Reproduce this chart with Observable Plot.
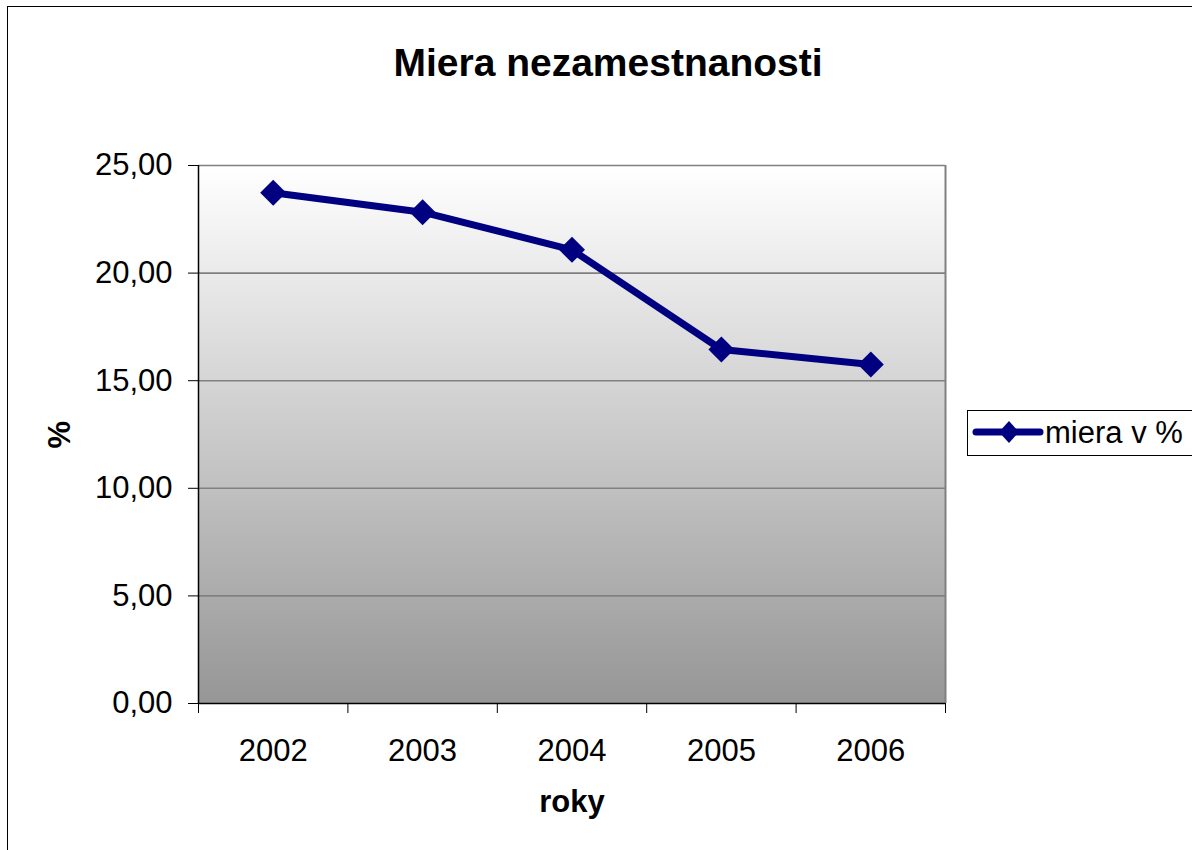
<!DOCTYPE html>
<html><head><meta charset="utf-8">
<script src="https://cdn.jsdelivr.net/npm/d3@7"></script>
<script src="https://cdn.jsdelivr.net/npm/@observablehq/plot@0.6"></script>
<style>
html,body{margin:0;padding:0;background:#fff;overflow:hidden;width:1192px;height:850px;}
#wrap{position:relative;width:1192px;height:850px;font-family:"Liberation Sans",Arial,sans-serif;overflow:hidden;}
#border{position:absolute;left:7px;top:6px;width:1400px;height:1000px;border:1.5px solid #000;box-sizing:border-box;pointer-events:none;}
#chart{position:absolute;left:0;top:0;}
#legend{position:absolute;left:967px;top:410px;width:300px;height:46px;border:1.5px solid #000;box-sizing:border-box;background:#fff;}
#legend svg{position:absolute;left:0;top:0;}
#legend span{position:absolute;left:77px;top:4px;font-size:31px;line-height:36px;color:#000;white-space:nowrap;}
</style>
</head><body>
<div id="wrap"><div id="border"></div><div id="chart"></div>
<div id="legend"><svg width="80" height="44"><line x1="8" y1="21" x2="72" y2="21" stroke="#000080" stroke-width="7" stroke-linecap="round"/><path d="M41,10L51,21L41,32L31,21Z" fill="#000080"/></svg><span>miera v %</span></div>
</div>
<script>
const years = [2002, 2003, 2004, 2005, 2006];
const rates = [23.73, 22.83, 21.08, 16.45, 15.75];
const yTicks = [0, 5, 10, 15, 20, 25];
const gridValues = [5, 10, 15, 20, 25];
const title = "Miera nezamestnanosti";
const xTitle = "roky";
const yTitle = "%";
const seriesName = "miera v %";

const data = years.map((y, i) => ({year: y, rate: rates[i]}));
const boundaries = [years[0] - 0.5, ...years.map(y => y + 0.5)];
const font = "'Liberation Sans', Arial, sans-serif";

const chart = Plot.plot({
  width: 1192,
  height: 850,
  marginLeft: 198,
  marginRight: 247,
  marginTop: 165,
  marginBottom: 147,
  style: {fontFamily: font, background: "transparent", color: "#000"},
  x: {type: "linear", domain: [boundaries[0], boundaries[boundaries.length - 1]]},
  y: {domain: [0, 25]},
  marks: [
    Plot.frame({fill: "url(#bg)", stroke: null}),
    Plot.ruleY(gridValues, {stroke: "#808080", strokeWidth: 1.6}),
    Plot.ruleX([boundaries[boundaries.length - 1]], {stroke: "#808080", strokeWidth: 2}),
    Plot.ruleX([boundaries[0]], {stroke: "#000", strokeWidth: 1.5}),
    Plot.ruleY([0], {stroke: "#000", strokeWidth: 1.5}),
    Plot.axisY({ticks: yTicks, tickSize: 10, tickPadding: 16, fontSize: 31, label: null,
      tickFormat: d => d.toFixed(2).replace(".", ","), stroke: "#000"}),
    Plot.axisX({ticks: boundaries, tickSize: 10, tickFormat: () => "", label: null, stroke: "#000"}),
    Plot.axisX({ticks: years, tickSize: 0, tickPadding: 35, fontSize: 31, label: null,
      tickFormat: d => String(d)}),
    Plot.line(data, {x: "year", y: "rate", stroke: "#000080", strokeWidth: 7, strokeLinejoin: "round"}),
    Plot.dot(data, {x: "year", y: "rate", symbol: "diamond2", r: 11.7, fill: "#000080", stroke: null}),
    Plot.text([title], {frameAnchor: "top", dx: 36, dy: -102, fontSize: 39, fontWeight: "bold", lineAnchor: "middle", fill: "#000"}),
    Plot.text([xTitle], {frameAnchor: "bottom", dy: 99, fontSize: 31, fontWeight: "bold", lineAnchor: "middle", fill: "#000"}),
    Plot.text([yTitle], {frameAnchor: "left", dx: -138, dy: 14, rotate: -90, fontSize: 31, fontWeight: "bold", lineAnchor: "middle", fill: "#000"})
  ]
});

const ns = "http://www.w3.org/2000/svg";
const defs = document.createElementNS(ns, "defs");
const grad = document.createElementNS(ns, "linearGradient");
grad.setAttribute("id", "bg");
grad.setAttribute("x1", "0"); grad.setAttribute("y1", "0");
grad.setAttribute("x2", "0"); grad.setAttribute("y2", "1");
[["0%", "#ffffff"], ["100%", "#969696"]].forEach(([o, c]) => {
  const s = document.createElementNS(ns, "stop");
  s.setAttribute("offset", o); s.setAttribute("stop-color", c);
  grad.appendChild(s);
});
defs.appendChild(grad);
chart.insertBefore(defs, chart.firstChild);
document.getElementById("chart").appendChild(chart);
</script>
</body></html>
